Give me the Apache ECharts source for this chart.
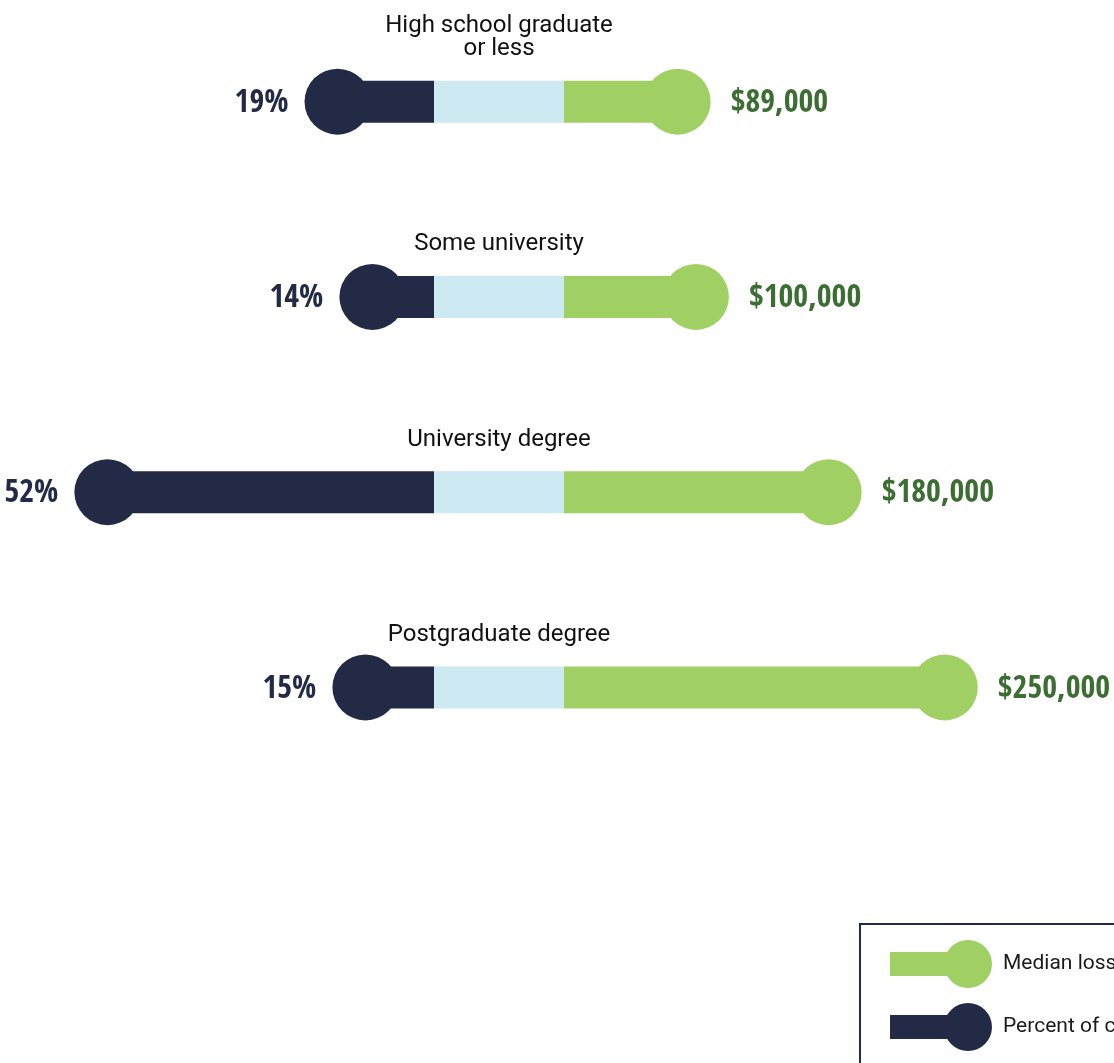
<!DOCTYPE html>
<html>
<head>
<meta charset="utf-8">
<title>Fraud by education</title>
<script src="https://cdn.jsdelivr.net/npm/echarts@6/dist/echarts.min.js"></script>
<style>
    html, body { margin: 0; padding: 0; background: #ffffff; }
    #chart { width: 1114px; height: 1063px; }
</style>
</head>
<body>
<div id="chart"></div>
<script>
var CATEGORIES = ['High school graduate\nor less', 'Some university', 'University degree', 'Postgraduate degree'];
var PERCENT_OF_CASES = [19, 14, 52, 15];
var MEDIAN_LOSS = [89000, 100000, 180000, 250000];
var CENTER_FILL = [1, 1, 1, 1];
var LEGEND_NAMES = ['Median loss', 'Percent of cases'];

var NAVY = '#232a45';
var GREEN = '#a0cf63';
var DARK_GREEN = '#3c6e34';
var LIGHT_BLUE = '#cde9f1';
var NUM_FONT = '"Open Sans Condensed", "Liberation Sans Narrow", "DejaVu Sans Condensed", sans-serif';

//************ BASE FUNCTIONS ************//
function to_points(values){
    return values.map(function (v, i) {
        return [v, i];
    });
}

function money_label(v){
    return '$' + v.toString().replace(/\B(?=(\d{3})+(?!\d))/g, ',');
}

function hidden_category_axis(grid_index){
    return {
        type: 'category',
        gridIndex: grid_index,
        data: CATEGORIES,
        inverse: true,
        show: false
    };
}

function end_dot(name, axis_index, values, color, side, distance, formatter, text_color){
    return {
        type: 'scatter',
        name: name,
        xAxisIndex: axis_index,
        yAxisIndex: axis_index,
        data: to_points(values),
        symbol: 'circle',
        symbolSize: 66,
        clip: false,
        itemStyle: { color: color, opacity: 1 },
        z: 3,
        label: {
            show: true,
            position: side,
            distance: distance,
            offset: [0, 2],
            formatter: function (p) { return formatter(p.value[0]); },
            color: text_color,
            fontFamily: NUM_FONT,
            fontWeight: 'bold',
            fontSize: 32
        },
        emphasis: { disabled: true }
    };
}

function stem_bar(name, axis_index, values, color, z){
    return {
        type: 'bar',
        name: name,
        xAxisIndex: axis_index,
        yAxisIndex: axis_index,
        data: values,
        barWidth: 42,
        clip: true,
        itemStyle: { color: color },
        z: z,
        emphasis: { disabled: true }
    };
}
//********** END BASE FUNCTIONS **********//

var chart = echarts.init(document.getElementById('chart'));

var center_bar = stem_bar('center', 2, CENTER_FILL, LIGHT_BLUE, 5);
center_bar.label = {
    show: true,
    position: 'top',
    distance: 20,
    formatter: function (p) { return CATEGORIES[p.dataIndex]; },
    color: '#111111',
    fontFamily: 'Roboto, sans-serif',
    fontSize: 24,
    lineHeight: 23
};

// stems start under the light blue block; each grid ends where it begins
var options = {
    animation: false,
    grid: [
        { left: 0, width: 434, top: 4, height: 781 },
        { left: 564, width: 550, top: 4, height: 781 },
        { left: 434, width: 130, top: 4, height: 781 }
    ],
    xAxis: [
        { type: 'value', gridIndex: 0, min: 5.163, max: 67.4, inverse: true, show: false },
        { type: 'value', gridIndex: 1, min: 20494, max: 352000, show: false },
        { type: 'value', gridIndex: 2, min: 0, max: 1, show: false }
    ],
    yAxis: [hidden_category_axis(0), hidden_category_axis(1), hidden_category_axis(2)],
    legend: {
        data: LEGEND_NAMES,
        orient: 'vertical',
        left: 860,
        top: 924,
        height: 220,
        padding: [16, 30, 40, 30],
        borderColor: NAVY,
        borderWidth: 2,
        itemWidth: 102,
        itemHeight: 48,
        itemGap: 15,
        selectedMode: false,
        icon: 'path://M0,12H60V36H0Z M78,0A24,24,0,1,1,78,48A24,24,0,1,1,78,0Z',
        textStyle: {
            color: '#1a1a1a',
            fontFamily: 'Roboto, sans-serif',
            fontSize: 21,
            padding: [0, 0, 0, 6]
        }
    },
    series: [
        stem_bar('Percent of cases', 0, PERCENT_OF_CASES, NAVY, 2),
        end_dot('Percent of cases', 0, PERCENT_OF_CASES, NAVY, 'left', 16,
            function (v) { return v + '%'; }, NAVY),
        stem_bar('Median loss', 1, MEDIAN_LOSS, GREEN, 2),
        end_dot('Median loss', 1, MEDIAN_LOSS, GREEN, 'right', 20, money_label, DARK_GREEN),
        center_bar
    ]
};

chart.setOption(options);
</script>
</body>
</html>
